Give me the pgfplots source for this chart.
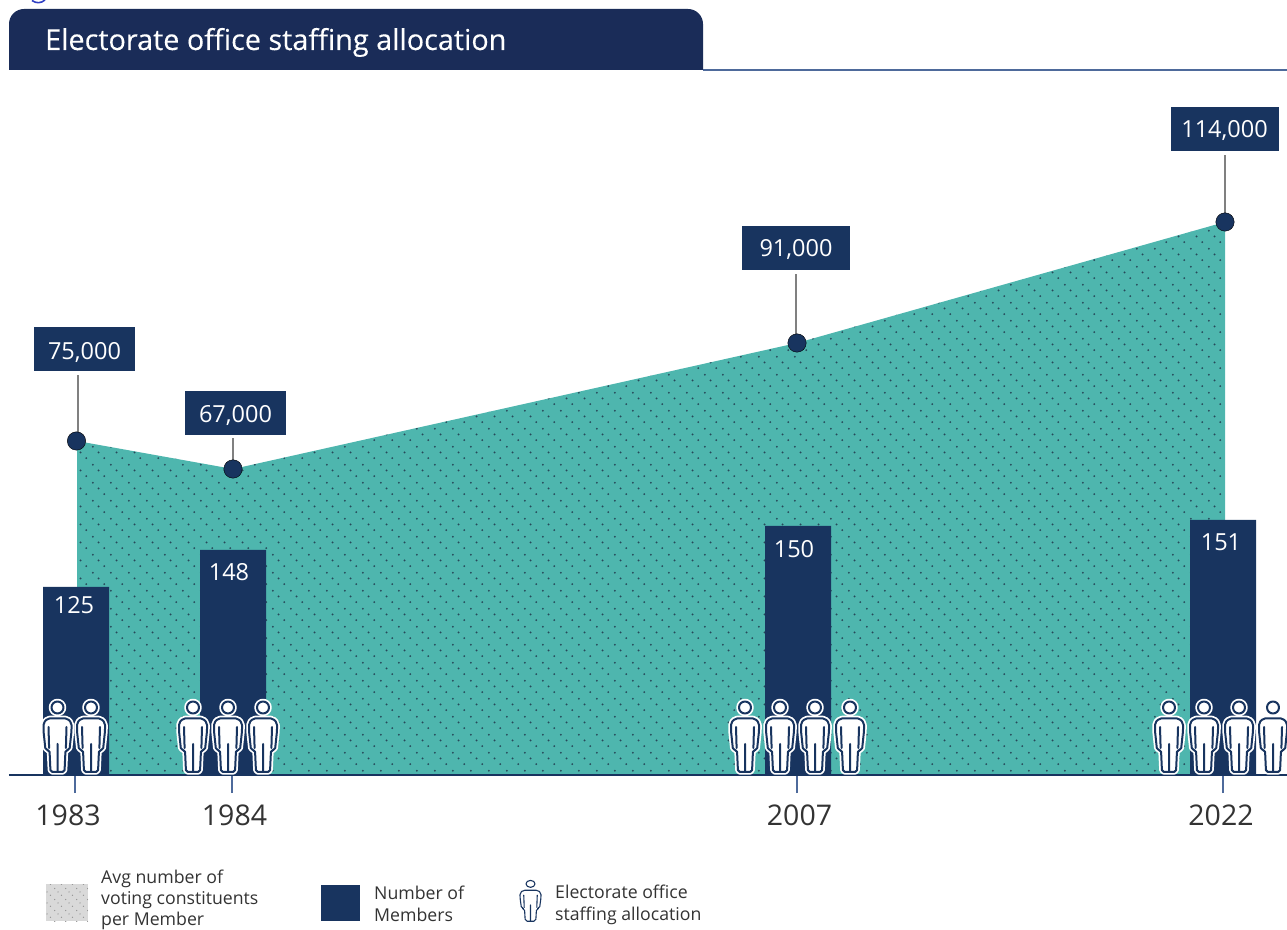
\documentclass[border=0pt]{standalone}
\usepackage{pgfplots}
\usepackage{pgfplotstable}
\usepackage{fontspec}
\usetikzlibrary{patterns}
\pgfplotsset{compat=1.18}
\setmainfont{Open Sans}
\newfontfamily\titlefont[FakeBold=0.2]{Open Sans}
\definecolor{banner}{HTML}{1A2C58}
\definecolor{barnavy}{HTML}{18345F}
\definecolor{tealf}{HTML}{4EB6AE}
\definecolor{dotc}{HTML}{27495A}
\definecolor{rulec}{HTML}{4E6A9B}
\definecolor{txt}{HTML}{333333}
\pgfdeclarepatternformonly{dotlines}{\pgfqpoint{0pt}{0pt}}{\pgfqpoint{18pt}{18pt}}{\pgfqpoint{18pt}{18pt}}{%
  \pgfpathcircle{\pgfqpoint{3pt}{15pt}}{1.1pt}%
  \pgfpathcircle{\pgfqpoint{9pt}{9pt}}{1.1pt}%
  \pgfpathcircle{\pgfqpoint{15pt}{3pt}}{1.1pt}%
  \pgfusepath{fill}}
\pgfdeclarepatternformonly{dotlinessmall}{\pgfqpoint{0pt}{0pt}}{\pgfqpoint{10.5pt}{10.5pt}}{\pgfqpoint{10.5pt}{10.5pt}}{%
  \pgfpathcircle{\pgfqpoint{1.75pt}{8.75pt}}{0.7pt}%
  \pgfpathcircle{\pgfqpoint{5.25pt}{5.25pt}}{0.7pt}%
  \pgfpathcircle{\pgfqpoint{8.75pt}{1.75pt}}{0.7pt}%
  \pgfusepath{fill}}
\newcommand{\personbody}{%
  \pgfsetcornersarced{\pgfqpoint{1.9pt}{1.9pt}}%
  \pgfpathmoveto{\pgfqpoint{0pt}{3pt}}%
  \pgfpathlineto{\pgfqpoint{-7pt}{3pt}}%
  \pgfpathlineto{\pgfqpoint{-8pt}{25pt}}%
  \pgfpathlineto{\pgfqpoint{-12pt}{25pt}}%
  \pgfpathlineto{\pgfqpoint{-14pt}{44pt}}%
  \pgfpathlineto{\pgfqpoint{-14pt}{52pt}}%
  \pgfpathlineto{\pgfqpoint{-10pt}{56.5pt}}%
  \pgfpathlineto{\pgfqpoint{10pt}{56.5pt}}%
  \pgfpathlineto{\pgfqpoint{14pt}{52pt}}%
  \pgfpathlineto{\pgfqpoint{14pt}{44pt}}%
  \pgfpathlineto{\pgfqpoint{12pt}{25pt}}%
  \pgfpathlineto{\pgfqpoint{8pt}{25pt}}%
  \pgfpathlineto{\pgfqpoint{7pt}{3pt}}%
  \pgfpathclose}
\newcommand{\personinner}{%
  \pgfsetcornersarced{\pgfqpoint{0pt}{0pt}}%
  \pgfpathmoveto{\pgfqpoint{-9pt}{48pt}}\pgfpathlineto{\pgfqpoint{-8.4pt}{27pt}}%
  \pgfpathmoveto{\pgfqpoint{9pt}{48pt}}\pgfpathlineto{\pgfqpoint{8.4pt}{27pt}}%
  \pgfpathmoveto{\pgfqpoint{0pt}{3pt}}\pgfpathlineto{\pgfqpoint{0pt}{31pt}}}
\pgfdeclareplotmark{person}{%
  \pgfsetroundjoin\pgfsetroundcap
  \pgfsetstrokecolor{white}\pgfsetfillcolor{white}\pgfsetlinewidth{5.5pt}%
  \personbody\pgfusepath{fill,stroke}%
  \pgfsetcornersarced{\pgfqpoint{0pt}{0pt}}%
  \pgfpathcircle{\pgfqpoint{0pt}{67.5pt}}{6pt}\pgfusepath{fill,stroke}%
  \pgfsetstrokecolor{barnavy}\pgfsetlinewidth{2pt}%
  \personbody\pgfusepath{stroke}%
  \personinner\pgfusepath{stroke}%
  \pgfpathcircle{\pgfqpoint{0pt}{67.5pt}}{6pt}\pgfusepath{stroke}}
\pgfdeclareplotmark{personthin}{%
  \pgfsetroundjoin\pgfsetroundcap
  \pgfsetstrokecolor{barnavy}\pgfsetlinewidth{1.1pt}%
  \personbody\pgfusepath{stroke}%
  \personinner\pgfusepath{stroke}%
  \pgfsetcornersarced{\pgfqpoint{0pt}{0pt}}%
  \pgfpathcircle{\pgfqpoint{0pt}{67.5pt}}{6pt}\pgfusepath{stroke}}
\pgfplotstableread{
x y
77 334
233 306
797 432
1225 553
}\areatab
\begin{document}
\begin{tikzpicture}
\path[use as bounding box,clip] (0,0) rectangle (1287pt,929pt);
\begin{axis}[
  at={(9pt,0pt)},anchor=south west,scale only axis,
  x=1pt,y=1pt,xmin=9,xmax=1287,ymin=-154,ymax=775,
  clip=false,axis on top,
  axis y line=none,axis x line=middle,
  axis line style={-,draw=barnavy,line width=2pt},
  xtick={75,232,797,1223},
  xticklabels={1983\kern14pt,\kern5pt 1984,\kern5pt 2007,2022\kern4pt},
  tick align=outside,major tick length=18pt,
  x tick style={draw=rulec,line width=1.6pt},
  xticklabel style={font=\fontsize{28.5}{30}\selectfont,text=txt,yshift=-8pt},
  ytick=\empty,
]
\addplot[fill=tealf,draw=none] table[x=x,y=y]{\areatab} \closedcycle;
\addplot[pattern=dotlines,pattern color=dotc,draw=none] table[x=x,y=y]{\areatab} \closedcycle;
\addplot[ybar,bar width=66pt,bar shift=0pt,fill=barnavy,draw=none,
  point meta=explicit symbolic,nodes near coords,
  visualization depends on={value \thisrow{dy} \as \dy},
  visualization depends on={value \thisrow{dx} \as \dx},
  every node near coord/.append style={anchor=center,yshift=\dy pt,xshift=\dx pt,text=white,font=\fontsize{23.5}{25}\selectfont,inner sep=0pt}]
  table[x=x,y=y,meta=label]{
x y label dy dx
76 188 125 -18 -2
233 225 148 -22 -4
798 249 150 -23 -4
1223 255 151 -22 -2
};
\addplot[draw=none,mark=none,forget plot,
  error bars/.cd,y dir=plus,y explicit,error mark=none,
  error bar style={draw=gray,line width=1.5pt}]
  table[x=x,y=y,y error=e]{
x y e
78 334 66
233 306 31
796 432 69
1225 553 67
};
\addplot[only marks,mark=*,mark size=9.2pt,mark options={fill=barnavy,draw=none},
  point meta=explicit symbolic,nodes near coords,
  visualization depends on={value \thisrow{dx} \as \dx},
  visualization depends on={value \thisrow{dy} \as \dy},
  visualization depends on={value \thisrow{w} \as \bw},
  visualization depends on={value \thisrow{th} \as \th},
  every node near coord/.append style={anchor=center,xshift=\dx pt,yshift=\dy pt,
    fill=barnavy,text=white,inner sep=0pt,minimum width=\bw pt,minimum height=44pt,
    text height=\th pt,text depth=0pt,
    font=\fontsize{23.5}{25}\selectfont}]
  table[x=x,y=y,meta=label]{
x y label dx dy w th
76.5 334 75,000 8 92 101 20.4
233 306 67,000 2.5 56 101 18.4
797 432 91,000 -1 95 108 16.4
1225 553 114,000 -0.5 93 108 16.4
};
\addplot[only marks,mark=person] table[x=x,y=y]{
x y
57.5 0
91 0
193 0
228 0
263 0
745 0
780 0
815 0
850 0
1169 0
1204 0
1239 0
1273 0
};
% legend icon
\addplot[only marks,mark=personthin,mark options={xscale=0.75,yscale=0.58}] coordinates {(530.5,-148)};
\end{axis}
% banner, rule, legend, and the tail of the cropped letter at the top edge
\begin{scope}[shift={(0pt,154pt)},x=1pt,y=1pt]
\draw[rulec!60!blue,line width=1.6pt] (32,774.5) .. controls (36,771.5) and (41,771.5) .. (45,775);
\draw[rulec,line width=1.2pt] (703,705) -- (1287,705);
\fill[banner] (9,705) -- (9,751) arc[start angle=180,end angle=90,radius=15] -- (688,766) arc[start angle=90,end angle=0,radius=15] -- (703,705) -- cycle;
\node[anchor=base west,inner sep=0pt,text=white,font=\titlefont\fontsize{28.8}{30}\selectfont] at (45,725) {Electorate office staffing allocation};
\fill[gray!30] (46,-109) rectangle (88,-146);
\fill[pattern=dotlinessmall,pattern color=gray!85] (46,-109) rectangle (88,-146);
\fill[barnavy] (321,-110) rectangle (360,-146);
\node[anchor=west,inner sep=0pt,align=left,text=txt,font=\fontsize{17.7}{21}\selectfont] at (101,-124.5) {Avg number of\\voting constituents\\per Member};
\node[anchor=west,inner sep=0pt,align=left,text=txt,font=\fontsize{17.7}{22}\selectfont] at (374,-129) {Number of\\Members};
\node[anchor=west,inner sep=0pt,align=left,text=txt,font=\fontsize{17.7}{22}\selectfont] at (555,-130) {Electorate office\\staffing allocation};
\end{scope}
\end{tikzpicture}
\end{document}
